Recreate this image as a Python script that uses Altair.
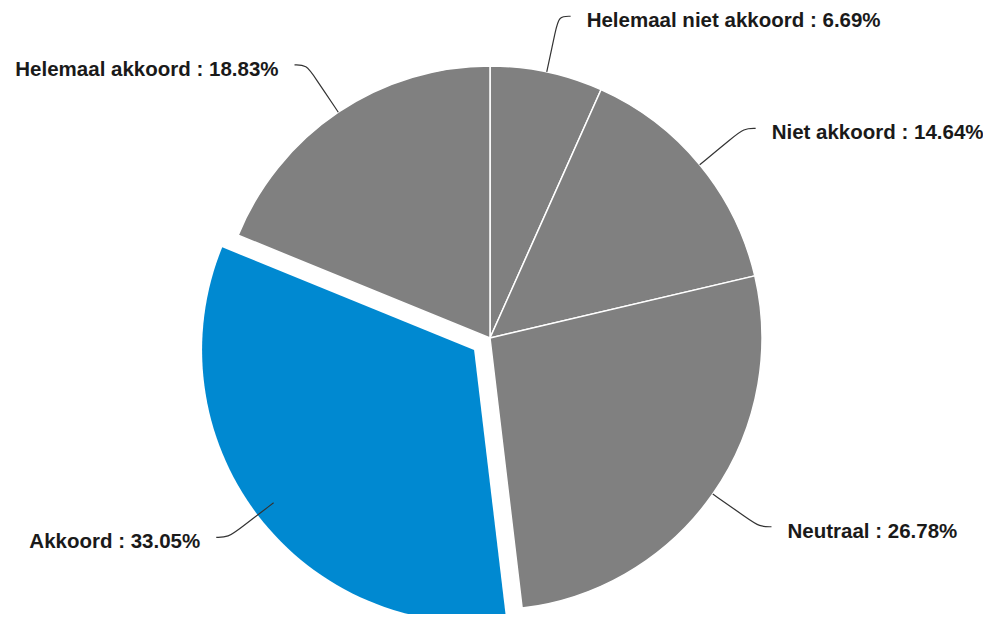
import math
import altair as alt
import pandas as pd

categories = ["Helemaal niet akkoord", "Niet akkoord", "Neutraal", "Akkoord", "Helemaal akkoord"]
values = [6.69, 14.64, 26.78, 33.05, 18.83]
highlight = "Akkoord"

W, H = 975, 606
cx, cy = 482, 330
R = 272
EXPLODE = 20

total = sum(values)
slices, lines, labels = [], [], []
start = 0.0
for c, v in zip(categories, values):
    end = start + v
    mid = (start + end) / 2 / total * 2 * math.pi
    sx, sy = math.sin(mid), -math.cos(mid)
    side = 1 if sx >= 0 else -1
    ex, ey = cx + R * sx, cy + R * sy
    p1 = (ex + 43 * sx, ey + 43 * sy)
    p2 = (ex + 57 * sx, ey + 57 * sy)
    p3 = (p2[0] + 12 * side, p2[1])
    for o, (x, y) in enumerate([(ex, ey), p1, p2, p3]):
        lines.append(dict(cat=c, o=o, x=x, y=y))
    labels.append(dict(cat=c, x=p3[0] + 16 * side, y=p3[1] + 5,
                       side="r" if side > 0 else "l",
                       text=f"{c} : {v:.2f}%"))
    off = EXPLODE if c == highlight else 0
    slices.append(dict(cat=c, start=start, end=end,
                       ox=cx + off * sx, oy=cy + off * sy))
    start = end

sdf = pd.DataFrame(slices)
ldf = pd.DataFrame(lines)
tdf = pd.DataFrame(labels)

theta_scale = alt.Scale(domain=[0, total], range=[0, 2 * math.pi])
xs = alt.Scale(domain=[0, W], range=[0, W])
ys = alt.Scale(domain=[0, H], range=[0, H])

def arc_layer(cat_filter, color, ox, oy, stroke):
    return alt.Chart(sdf).transform_filter(cat_filter).mark_arc(
        outerRadius=R, stroke=stroke, strokeWidth=1.5 if stroke else 0, color=color
    ).encode(
        theta=alt.Theta("start:Q", scale=theta_scale),
        theta2="end:Q",
        x=alt.value(ox), y=alt.value(oy),
    )

hl = sdf[sdf.cat == highlight].iloc[0]
gray = arc_layer(alt.datum.cat != highlight, "#808080", cx, cy, "white")
blue = arc_layer(alt.datum.cat == highlight, "#0089d1", float(hl.ox), float(hl.oy), None)

leader = alt.Chart(ldf).mark_line(interpolate="basis", color="#333333", strokeWidth=1.2).encode(
    x=alt.X("x:Q", scale=xs, axis=None),
    y=alt.Y("y:Q", scale=ys, axis=None),
    detail="cat:N",
    order="o:Q",
)

def text_layer(side, align):
    return alt.Chart(tdf).transform_filter(alt.datum.side == side).mark_text(
        align=align, baseline="middle", font="Liberation Sans", fontWeight="bold",
        fontSize=20.5, color="#1a1a1a"
    ).encode(
        x=alt.X("x:Q", scale=xs, axis=None),
        y=alt.Y("y:Q", scale=ys, axis=None),
        text="text:N",
    )

chart = alt.layer(gray, blue, leader, text_layer("r", "left"), text_layer("l", "right")).properties(
    width=W, height=H, autosize="none", padding=0
).configure_view(stroke=None)

chart.save("out.html", embed_options={"renderer": "svg", "actions": False})
